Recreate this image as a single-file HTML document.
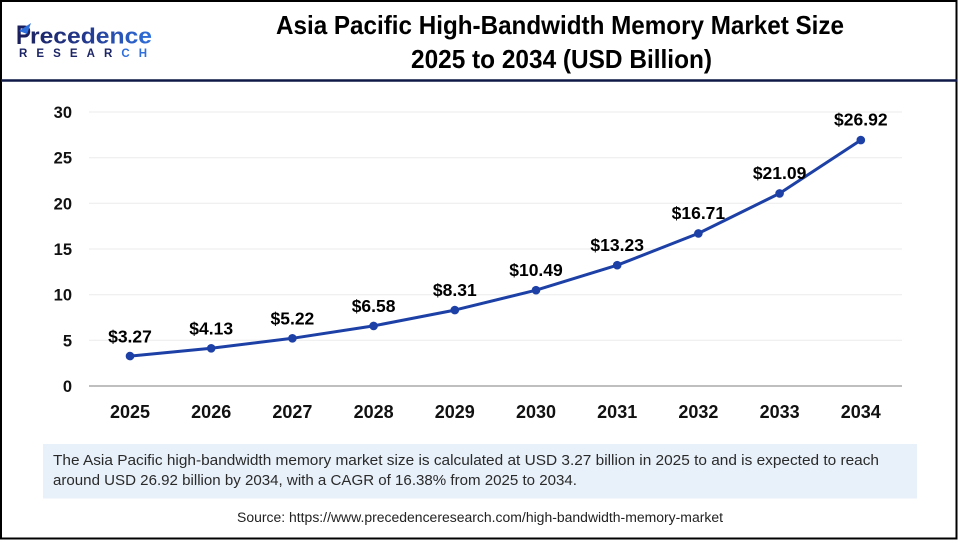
<!DOCTYPE html>
<html>
<head>
<meta charset="utf-8">
<style>
  html, body { margin: 0; padding: 0; background: #ffffff; }
  svg { display: block; }
  text { font-family: "Liberation Sans", Arial, sans-serif; }
</style>
</head>
<body>
<svg width="960" height="540" viewBox="0 0 960 540" xmlns="http://www.w3.org/2000/svg">
  <defs>
    <linearGradient id="lg" x1="0" y1="0" x2="1" y2="0">
      <stop offset="0" stop-color="#1c2566"/>
      <stop offset="0.45" stop-color="#23388c"/>
      <stop offset="1" stop-color="#2f6fdc"/>
    </linearGradient>
  </defs>
  <rect x="0" y="0" width="960" height="540" fill="#ffffff"/>
  <!-- frame -->
  <rect x="1" y="1" width="955.5" height="537.5" fill="none" stroke="#000" stroke-width="2"/>
  <!-- header separator -->
  <line x1="1" y1="80.5" x2="957" y2="80.5" stroke="#0f1846" stroke-width="2.4"/>

  <!-- logo -->
  <text x="16" y="44" font-size="27" font-weight="bold" fill="#1b1f5e" textLength="15" lengthAdjust="spacingAndGlyphs">P</text>
  <path d="M19 31 L31 23 L27 34 Z" fill="#2f6fdc"/>
  <text x="30" y="43.5" font-size="22" font-weight="bold" fill="url(#lg)" textLength="122" lengthAdjust="spacingAndGlyphs">recedence</text>
  <text x="19" y="57" font-size="11.5" font-weight="bold" fill="#1c2566" textLength="128" lengthAdjust="spacing">RESEAR<tspan fill="#2f6fdc">CH</tspan></text>

  <!-- title -->
  <text x="276" y="34" font-size="26" font-weight="bold" fill="#000" textLength="568" lengthAdjust="spacingAndGlyphs">Asia Pacific High-Bandwidth Memory Market Size</text>
  <text x="411" y="68" font-size="26" font-weight="bold" fill="#000" textLength="301" lengthAdjust="spacingAndGlyphs">2025 to 2034 (USD Billion)</text>

  <!-- gridlines -->
  <g stroke="#ebebeb" stroke-width="1">
    <line x1="89" y1="112" x2="902" y2="112"/>
    <line x1="89" y1="157.7" x2="902" y2="157.7"/>
    <line x1="89" y1="203.3" x2="902" y2="203.3"/>
    <line x1="89" y1="249" x2="902" y2="249"/>
    <line x1="89" y1="294.7" x2="902" y2="294.7"/>
    <line x1="89" y1="340.3" x2="902" y2="340.3"/>
  </g>
  <line x1="89" y1="386" x2="902" y2="386" stroke="#bfbfbf" stroke-width="2"/>

  <!-- y tick labels -->
  <g font-size="16.5" font-weight="bold" fill="#111" text-anchor="end">
    <text x="72" y="118">30</text>
    <text x="72" y="163.7">25</text>
    <text x="72" y="209.3">20</text>
    <text x="72" y="255">15</text>
    <text x="72" y="300.7">10</text>
    <text x="72" y="346.3">5</text>
    <text x="72" y="392">0</text>
  </g>

  <!-- x tick labels -->
  <g font-size="18" font-weight="bold" fill="#111" text-anchor="middle">
    <text x="130" y="418">2025</text>
    <text x="211.2" y="418">2026</text>
    <text x="292.4" y="418">2027</text>
    <text x="373.6" y="418">2028</text>
    <text x="454.8" y="418">2029</text>
    <text x="536" y="418">2030</text>
    <text x="617.2" y="418">2031</text>
    <text x="698.4" y="418">2032</text>
    <text x="779.6" y="418">2033</text>
    <text x="860.8" y="418">2034</text>
  </g>

  <!-- series -->
  <polyline fill="none" stroke="#1d40a6" stroke-width="3" stroke-linejoin="round" stroke-linecap="round"
    points="130,356.1 211.2,348.3 292.4,338.3 373.6,325.9 454.8,310.1 536,290.2 617.2,265.2 698.4,233.4 779.6,193.4 860.8,140.1"/>
  <g fill="#1d40a6">
    <circle cx="130" cy="356.1" r="4.3"/>
    <circle cx="211.2" cy="348.3" r="4.3"/>
    <circle cx="292.4" cy="338.3" r="4.3"/>
    <circle cx="373.6" cy="325.9" r="4.3"/>
    <circle cx="454.8" cy="310.1" r="4.3"/>
    <circle cx="536" cy="290.2" r="4.3"/>
    <circle cx="617.2" cy="265.2" r="4.3"/>
    <circle cx="698.4" cy="233.4" r="4.3"/>
    <circle cx="779.6" cy="193.4" r="4.3"/>
    <circle cx="860.8" cy="140.1" r="4.3"/>
  </g>

  <!-- data labels -->
  <g font-size="17.5" font-weight="bold" fill="#000" text-anchor="middle">
    <text x="130" y="342.5">$3.27</text>
    <text x="211.2" y="334.5">$4.13</text>
    <text x="292.4" y="324.5">$5.22</text>
    <text x="373.6" y="312">$6.58</text>
    <text x="454.8" y="296">$8.31</text>
    <text x="536" y="276">$10.49</text>
    <text x="617.2" y="251">$13.23</text>
    <text x="698.4" y="219">$16.71</text>
    <text x="779.6" y="179">$21.09</text>
    <text x="860.8" y="125.5">$26.92</text>
  </g>

  <!-- description box -->
  <rect x="43" y="444" width="874" height="54.5" fill="#e8f0f9"/>
  <text x="53" y="465" font-size="15" fill="#2a2a2a" textLength="826" lengthAdjust="spacingAndGlyphs">The Asia Pacific high-bandwidth memory market size is calculated at USD 3.27 billion in 2025 to and is expected to reach</text>
  <text x="53" y="485" font-size="15" fill="#2a2a2a" textLength="524" lengthAdjust="spacingAndGlyphs">around USD 26.92 billion by 2034, with a CAGR of 16.38% from 2025 to 2034.</text>

  <!-- source -->
  <text x="237" y="522" font-size="13.5" fill="#222" textLength="486" lengthAdjust="spacingAndGlyphs">Source: https://www.precedenceresearch.com/high-bandwidth-memory-market</text>
</svg>
</body>
</html>
